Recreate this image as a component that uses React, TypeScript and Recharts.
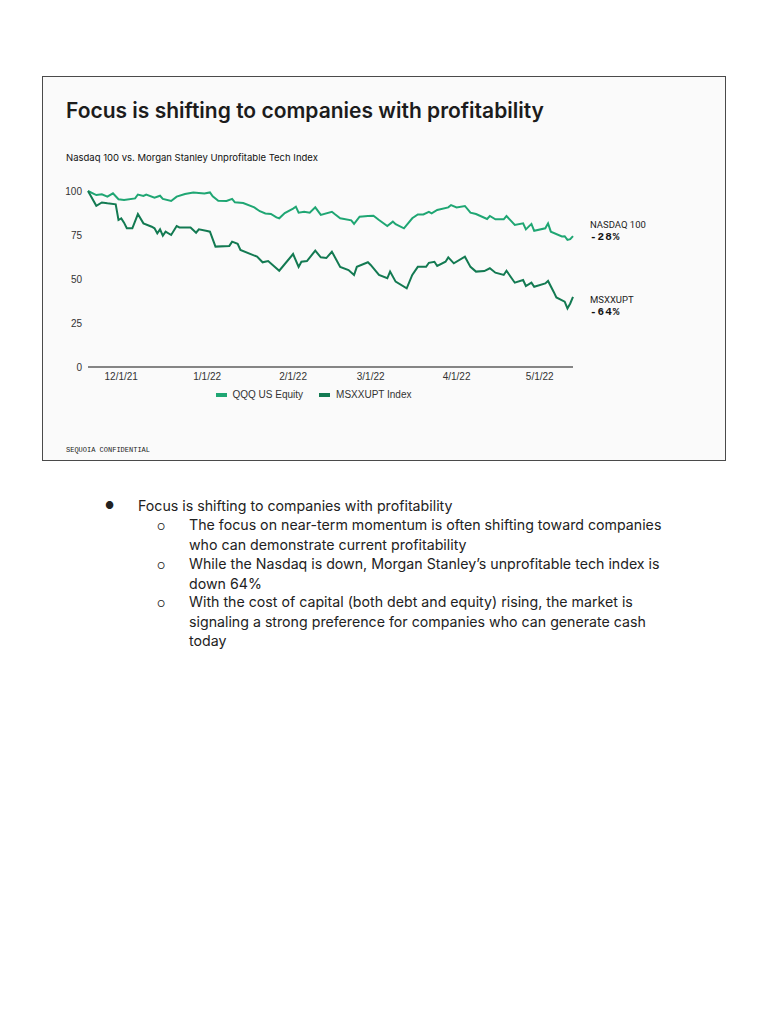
import React from "react";
import { LineChart, Line, XAxis, YAxis, Legend } from "recharts";

// x values are calendar days since 11/19/21
const qqqDays = [0, 3, 5, 7, 9, 11, 13, 17, 18, 20, 21, 24, 26, 27, 30, 32, 35, 38, 42, 44, 45, 47, 50, 52, 53, 56, 60, 62, 64, 66, 68, 69, 71, 74, 75, 76, 78, 80, 82, 84, 88, 89, 91, 95, 96, 98, 101, 103, 105, 108, 110, 111, 114, 117, 119, 121, 123, 124, 126, 130, 131, 133, 136, 138, 140, 144, 145, 147, 150, 151, 154, 157, 158, 160, 161, 165, 166, 167, 171, 172, 173, 174, 175];
const qqqValues = [100, 97.7, 98.1, 96.8, 98.7, 95.3, 94.9, 95.8, 98, 97.2, 98, 96.2, 97.3, 95.5, 94.3, 96.8, 98.3, 99.2, 98.6, 99.2, 97, 94.5, 94.3, 95.5, 93.6, 93.2, 90.7, 88.5, 87.2, 87, 85, 84.5, 87.5, 90, 91.1, 87.7, 88.2, 87.7, 90.7, 86.4, 88.2, 86.9, 84.5, 83.3, 81.3, 85.4, 85.8, 85.9, 83.5, 80.1, 82.6, 81.1, 78.8, 84.5, 86.7, 86.7, 88.2, 87.3, 89.2, 90.7, 92, 90.7, 91.5, 87.7, 86.9, 84.1, 85.8, 83.9, 83.9, 85.8, 80.7, 81.6, 78.2, 81.3, 77.4, 78.8, 81.6, 76.9, 74.2, 74.3, 72.2, 72.6, 74.4];

const msDays = [0, 3, 5, 7, 10, 11, 12, 13, 14, 16, 18, 20, 23, 24, 25, 26, 27, 28, 30, 32, 33, 37, 39, 40, 43, 44, 46, 51, 52, 54, 55, 61, 63, 65, 69, 74, 76, 77, 79, 82, 84, 86, 88, 89, 91, 94, 96, 97, 101, 102, 105, 108, 109, 111, 115, 117, 119, 122, 123, 125, 126, 129, 130, 132, 136, 138, 140, 143, 145, 147, 150, 151, 154, 157, 158, 160, 161, 165, 166, 168, 169, 172, 173, 174, 175];
const msValues = [100, 91.6, 93.5, 93, 92.4, 83.5, 84.4, 82, 78.8, 78.8, 86.9, 81.6, 79.7, 78.8, 75.9, 78.2, 74.6, 76.9, 75, 80.1, 79.3, 79.3, 76.3, 78.2, 77.3, 76.9, 68.4, 68.8, 71.2, 70, 66.5, 62.7, 59.5, 60.2, 54.7, 64.2, 56.9, 59.8, 60.2, 66.1, 62.3, 61.9, 65.5, 62.7, 56.9, 55.1, 52.3, 56.9, 59.5, 58, 52.3, 50.4, 54.2, 48.5, 44.7, 52.3, 56.9, 56.9, 59.2, 59.8, 57.4, 59.8, 62.3, 58.9, 62.7, 56.9, 54.2, 54.5, 56.1, 53.6, 52.3, 54.7, 47.9, 49.4, 46, 47.9, 45.6, 47.5, 48.9, 42.8, 39.5, 37.1, 33.3, 36.1, 39.9];

const tickDays = [12, 43, 74, 102, 133, 163];
const tickLabels = ["12/1/21", "1/1/22", "2/1/22", "3/1/22", "4/1/22", "5/1/22"];
const yTicks = [0, 25, 50, 75, 100];

const seriesNames = ["QQQ US Equity", "MSXXUPT Index"];
const endLabels = [
  { name: "NASDAQ 100", change: "-28%" },
  { name: "MSXXUPT", change: "-64%" },
];

const QQQ_COLOR = "#1fa673";
const MS_COLOR = "#137a52";

const qqqData = qqqDays.map((d, i) => ({ day: d, value: qqqValues[i] }));
const msData = msDays.map((d, i) => ({ day: d, value: msValues[i] }));

const axisFont = { fontFamily: "'Liberation Sans', Arial, sans-serif", fontSize: 10, fill: "#333" };

const LegendContent = () => (
  <div style={{ display: "flex", justifyContent: "center", gap: 16, fontFamily: "'Liberation Sans', Arial, sans-serif", fontSize: 10, color: "#333", transform: "translateX(2px)" }}>
    {seriesNames.map((n, i) => (
      <div key={n} style={{ display: "flex", alignItems: "center" }}>
        <div style={{ width: 11, height: 4, background: i === 0 ? QQQ_COLOR : MS_COLOR, marginRight: 6 }} />
        <span>{n}</span>
      </div>
    ))}
  </div>
);

const pos = (x: number, y: number): React.CSSProperties => ({ position: "absolute", left: x - 8, top: y - 8 });

export default function App() {
  const bulletFont: React.CSSProperties = { fontFamily: "Inter, 'Noto Sans', sans-serif", fontSize: 14.2, lineHeight: "19.5px", color: "#222" };
  return (
    <div style={{ position: "relative", width: 752, height: 1000 }}>
      <div style={{ ...pos(42, 76), width: 682, height: 383, border: "1px solid #4a4a4a", background: "#fafafa" }} />
      <div style={{ ...pos(66, 98), fontFamily: "Inter, sans-serif", fontWeight: 600, fontSize: 21, color: "#1c1c1c", whiteSpace: "nowrap" }}>
        Focus is shifting to companies with profitability
      </div>
      <div style={{ ...pos(66, 152), fontFamily: "Inter, sans-serif", fontSize: 9.5, color: "#111", whiteSpace: "nowrap" }}>
        Nasdaq 100 vs. Morgan Stanley Unprofitable Tech Index
      </div>

      <div style={pos(50, 181)}>
        <LineChart width={530} height={234} data={qqqData} margin={{ top: 10, right: 7, left: 0, bottom: 0 }}>
          <XAxis
            dataKey="day"
            type="number"
            domain={[0, 175]}
            ticks={tickDays}
            tickFormatter={(v: number) => tickLabels[tickDays.indexOf(v)]}
            tick={axisFont}
            tickLine={false}
            tickSize={0}
            tickMargin={6}
            axisLine={{ stroke: "#111", strokeWidth: 1 }}
            height={22}
          />
          <YAxis
            domain={[0, 100]}
            ticks={yTicks}
            tick={axisFont}
            tickLine={false}
            tickSize={0}
            tickMargin={6}
            axisLine={false}
            width={38}
          />
          <Legend verticalAlign="bottom" height={26} content={<LegendContent />} />
          <Line data={qqqData} dataKey="value" name={seriesNames[0]} stroke={QQQ_COLOR} strokeWidth={2} dot={false} isAnimationActive={false} />
          <Line data={msData} dataKey="value" name={seriesNames[1]} stroke={MS_COLOR} strokeWidth={2} dot={false} isAnimationActive={false} />
        </LineChart>
      </div>

      {endLabels.map((l, i) => (
        <div key={l.name} style={{ ...pos(590, i === 0 ? 219 : 294) }}>
          <div style={{ fontFamily: "Roboto, sans-serif", fontSize: 9.5, color: "#222" }}>{l.name}</div>
          <div style={{ fontFamily: "'Liberation Mono', monospace", fontWeight: 700, fontSize: 11, letterSpacing: 1, color: "#111", marginTop: 1 }}>{l.change}</div>
        </div>
      ))}

      <div style={{ ...pos(66, 446), fontFamily: "'Liberation Mono', monospace", fontSize: 7, color: "#222" }}>SEQUOIA CONFIDENTIAL</div>

      <div style={{ ...pos(105, 496), ...bulletFont, fontSize: 10 }}>●</div>
      <div style={{ ...pos(138, 496), ...bulletFont }}>Focus is shifting to companies with profitability</div>
      {[
        { y: 515, text: "The focus on near-term momentum is often shifting toward companies who can demonstrate current profitability" },
        { y: 554, text: "While the Nasdaq is down, Morgan Stanley\u2019s unprofitable tech index is down 64%" },
        { y: 592, text: "With the cost of capital (both debt and equity) rising, the market is signaling a strong preference for companies who can generate cash today" },
      ].map((b) => (
        <React.Fragment key={b.y}>
          <div style={{ ...pos(157, b.y + 2), ...bulletFont, fontSize: 9 }}>○</div>
          <div style={{ ...pos(189, b.y), ...bulletFont, width: 480 }}>{b.text}</div>
        </React.Fragment>
      ))}
    </div>
  );
}
